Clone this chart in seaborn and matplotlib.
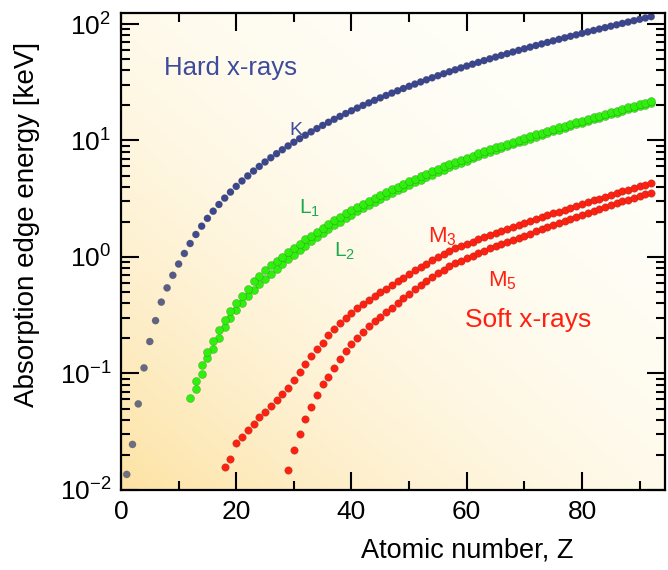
import numpy as np
import pandas as pd
import matplotlib
matplotlib.use("Agg")
import matplotlib.pyplot as plt
import seaborn as sns
from matplotlib.colors import LinearSegmentedColormap, Normalize
from matplotlib.ticker import LogLocator, MultipleLocator, NullFormatter

# ---------------- data (absorption edge energies, keV) ----------------
K_Z0 = 1
K_E = [0.0136, 0.0246, 0.0548, 0.1117, 0.188, 0.2842, 0.4099, 0.5431, 0.6967, 0.8701,
       1.0721, 1.305, 1.5596, 1.8389, 2.1455, 2.472, 2.8224, 3.2029, 3.6074, 4.0381,
       4.4928, 4.9664, 5.4651, 5.9892, 6.539, 7.112, 7.7089, 8.3328, 8.9789, 9.6586,
       10.3671, 11.1031, 11.8667, 12.6578, 13.4737, 14.3256, 15.1997, 16.1046, 17.0384, 17.9976,
       18.9856, 19.9995, 21.044, 22.1172, 23.2199, 24.3503, 25.514, 26.7112, 27.9399, 29.2001,
       30.4912, 31.8138, 33.1694, 34.5614, 35.9846, 37.4406, 38.9246, 40.443, 41.9906, 43.5689,
       45.184, 46.8342, 48.519, 50.2391, 51.9957, 53.7885, 55.6177, 57.4855, 59.3896, 61.3323,
       63.3138, 65.3508, 67.4164, 69.525, 71.6764, 73.8708, 76.111, 78.3948, 80.7249, 83.1023,
       85.5304, 88.0045, 90.5259, 93.105, 95.73, 98.404, 101.137, 103.922, 106.755, 109.651,
       112.601, 115.606]

L1_Z0 = 13
L1_E = [0.087, 0.118, 0.152, 0.191, 0.236, 0.288, 0.344, 0.405, 0.466, 0.528,
        0.622, 0.69, 0.773, 0.8461, 0.9256, 1.0081, 1.0961, 1.1936, 1.2977, 1.4143,
        1.5265, 1.6539, 1.782, 1.921, 2.0651, 2.2163, 2.3725, 2.5316, 2.6977, 2.8655,
        3.0425, 3.224, 3.4119, 3.6043, 3.8058, 4.018, 4.2375, 4.4647, 4.6983, 4.9392,
        5.1881, 5.4528, 5.7143, 5.9888, 6.2663, 6.5488, 6.8348, 7.126, 7.4279, 7.7368,
        8.052, 8.3756, 8.708, 9.0458, 9.3942, 9.7513, 10.1157, 10.4864, 10.8704, 11.2707,
        11.6815, 12.0998, 12.5267, 12.968, 13.4185, 13.8799, 14.3528, 14.8393, 15.3467, 15.8608,
        16.3875, 16.9393, 17.493, 18.049, 18.639, 19.2367, 19.84, 20.472, 21.1046, 21.7574]

L2_Z0 = 12
L2_E = [0.062, 0.073, 0.0998, 0.136, 0.1636, 0.202, 0.2506, 0.2973, 0.3497, 0.4066,
        0.4607, 0.5199, 0.5837, 0.6498, 0.7199, 0.7932, 0.8701, 0.9517, 1.0449, 1.1423,
        1.2478, 1.3586, 1.4762, 1.596, 1.7272, 1.8639, 2.0068, 2.1555, 2.3067, 2.4647,
        2.6251, 2.7932, 2.9669, 3.1461, 3.3303, 3.5237, 3.727, 3.938, 4.1561, 4.3804,
        4.612, 4.8521, 5.1037, 5.3594, 5.6236, 5.8906, 6.1642, 6.4404, 6.7215, 7.0128,
        7.3118, 7.6171, 7.9303, 8.2516, 8.5806, 8.9178, 9.2643, 9.6169, 9.9782, 10.3486,
        10.7394, 11.1361, 11.544, 11.9587, 12.385, 12.8241, 13.2726, 13.7336, 14.2087, 14.6979,
        15.2, 15.7111, 16.2443, 16.7847, 17.3371, 17.9065, 18.4843, 19.0832, 19.6932, 20.3137,
        20.9476]

M3_Z0 = 18
M3_E = [0.0157, 0.0183, 0.0254, 0.0283, 0.0326, 0.0372, 0.0421, 0.0471, 0.0527, 0.0589,
        0.0662, 0.0751, 0.0886, 0.1035, 0.1208, 0.1412, 0.1607, 0.182, 0.2144, 0.2391,
        0.27, 0.3003, 0.3308, 0.363, 0.3923, 0.425, 0.4614, 0.4965, 0.5323, 0.573,
        0.6175, 0.6643, 0.7146, 0.7664, 0.82, 0.875, 0.937, 0.998, 1.0629, 1.1234,
        1.1851, 1.2428, 1.2974, 1.357, 1.4198, 1.4806, 1.544, 1.6113, 1.6756, 1.7412,
        1.8118, 1.8845, 1.9498, 2.0236, 2.1076, 2.194, 2.281, 2.3673, 2.4572, 2.5507,
        2.6454, 2.743, 2.8471, 2.9566, 3.0664, 3.1769, 3.3017, 3.426, 3.538, 3.663,
        3.792, 3.909, 4.0461, 4.1738, 4.3034]

M5_Z0 = 29
M5_E = [0.0149, 0.0219, 0.030, 0.041, 0.052, 0.065, 0.081, 0.0938, 0.1115, 0.1331,
        0.1558, 0.1788, 0.2023, 0.2279, 0.2539, 0.2799, 0.3072, 0.3352, 0.367, 0.4037,
        0.4439, 0.4849, 0.5282, 0.5721, 0.6193, 0.6723, 0.7266, 0.7805, 0.836, 0.8838,
        0.9288, 0.9804, 1.027, 1.0802, 1.131, 1.1852, 1.2411, 1.2926, 1.351, 1.409,
        1.468, 1.528, 1.589, 1.662, 1.735, 1.809, 1.883, 1.96, 2.04, 2.122,
        2.206, 2.295, 2.389, 2.484, 2.58, 2.683, 2.787, 2.892, 3.0, 3.105,
        3.219, 3.332, 3.442, 3.552]


def frame(z0, e, name):
    return pd.DataFrame({"Z": np.arange(z0, z0 + len(e)), "E": e, "edge": name})


dK = frame(K_Z0, K_E, "K")
dL1 = frame(L1_Z0, L1_E, "L1")
dL2 = frame(L2_Z0, L2_E, "L2")
dM3 = frame(M3_Z0, M3_E, "M3")
dM5 = frame(M5_Z0, M5_E, "M5")

# ---------------- style ----------------
sns.set_theme(style="ticks")
plt.rcParams['font.family'] = ['Liberation Sans', 'DejaVu Sans']
plt.rcParams['mathtext.default'] = 'regular'
plt.rcParams['axes.unicode_minus'] = False

BLUE = '#3b4690'
GREEN = '#2ef00c'
RED = '#ff2010'

fig = plt.figure(figsize=(6.68, 5.70), dpi=100)
ax = fig.add_axes([0.1811, 0.1404, 0.8144, 0.8368])

# background gradient (yellow in lower-left corner fading to white)
n = 300
u = np.linspace(0, 1, n)[None, :]
v = np.linspace(0, 1, n)[:, None]
t = np.clip(1 - (u + v) / 2.0, 0, 1) ** 2.6
c0 = np.array([255, 254, 248]) / 255.0
c1 = np.array([253, 226, 163]) / 255.0
img = c0[None, None, :] * (1 - t[..., None]) + c1[None, None, :] * t[..., None]
ax.imshow(img, extent=(0, 1, 0, 1), transform=ax.transAxes, origin='lower',
          aspect='auto', zorder=0, interpolation='bilinear')

edge_kw = dict(edgecolor=(0.2, 0.2, 0.2, 0.35), linewidth=0.4, zorder=3)

kcmap = LinearSegmentedColormap.from_list("k", ['#70707f', '#5a6086', BLUE])
sns.scatterplot(data=dK, x="Z", y="E", hue="Z", palette=kcmap,
                hue_norm=Normalize(1, 14), legend=False, s=26, ax=ax, **edge_kw)
sns.scatterplot(data=dL2, x="Z", y="E", color=GREEN, s=34, ax=ax, **edge_kw)
sns.scatterplot(data=dL1, x="Z", y="E", color=GREEN, s=34, ax=ax, **edge_kw)
sns.scatterplot(data=dM5, x="Z", y="E", color=RED, s=30, ax=ax, **edge_kw)
sns.scatterplot(data=dM3, x="Z", y="E", color=RED, s=30, ax=ax, **edge_kw)

ax.set_yscale('log')
ax.set_xlim(0, 94.4)
ax.set_ylim(0.01, 124.3)

ax.xaxis.set_major_locator(MultipleLocator(20))
ax.xaxis.set_minor_locator(MultipleLocator(10))
ax.yaxis.set_major_locator(LogLocator(base=10, numticks=10))
ax.yaxis.set_minor_locator(LogLocator(base=10, subs=np.arange(2, 10), numticks=20))
ax.yaxis.set_minor_formatter(NullFormatter())

ax.tick_params(which='both', direction='in', top=True, right=True,
               color='black', width=1.5, labelsize=19, labelcolor='black')
ax.tick_params(which='major', length=13, pad=7)
ax.tick_params(which='minor', length=6.5)
for sp in ax.spines.values():
    sp.set_color('black')
    sp.set_linewidth(1.6)
    sp.set_zorder(5)

ax.set_xlabel("Atomic number, Z", fontsize=19.5, color='black')
ax.set_ylabel("Absorption edge energy [keV]", fontsize=20, color='black')
ax.xaxis.set_label_coords(0.636, -0.10)
ax.yaxis.set_label_coords(-0.148, 0.556)

# annotations
ax.text(19.08, 41.9, "Hard x-rays", color='#3d4b9c', fontsize=18.5,
        ha='center', va='center')
ax.text(30.35, 12.1, "K", color='#3d4b9c', fontsize=14, ha='center', va='center')
ax.text(30.87, 2.34, "L$_1$", color='#1daa4e', fontsize=15, ha='left', va='baseline')
ax.text(36.94, 1.0, "L$_2$", color='#1daa4e', fontsize=15, ha='left', va='baseline')
ax.text(53.24, 1.346, "M$_3$", color=RED, fontsize=16, ha='left', va='baseline')
ax.text(63.65, 0.564, "M$_5$", color=RED, fontsize=16, ha='left', va='baseline')
ax.text(70.59, 0.288, "Soft x-rays", color=RED, fontsize=19, ha='center', va='center')

fig.savefig("out.png", dpi=100, facecolor='white')
